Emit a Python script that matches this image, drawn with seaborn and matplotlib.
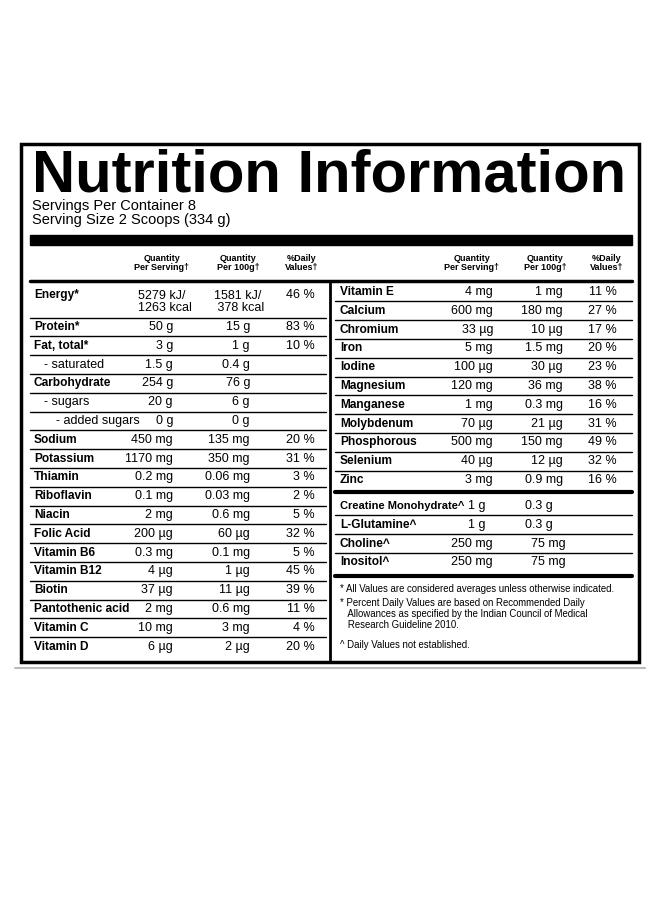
import matplotlib
matplotlib.use("Agg")
import matplotlib.pyplot as plt
import seaborn as sns

sns.set_theme(style="white")
plt.rcParams['font.family'] = ['Liberation Sans', 'DejaVu Sans']
plt.rcParams['text.color'] = 'black'

# left table data
left_names = ["Energy*", "Protein*", "Fat, total*", "- saturated", "Carbohydrate", "- sugars",
              "- added sugars", "Sodium", "Potassium", "Thiamin", "Riboflavin", "Niacin",
              "Folic Acid", "Vitamin B6", "Vitamin B12", "Biotin", "Pantothenic acid",
              "Vitamin C", "Vitamin D"]
left_serv = ["5279 kJ/\n1263 kcal", "50 g", "3 g", "1.5 g", "254 g", "20 g", "0 g", "450 mg",
             "1170 mg", "0.2 mg", "0.1 mg", "2 mg", "200 µg", "0.3 mg", "4 µg", "37 µg",
             "2 mg", "10 mg", "6 µg"]
left_100g = ["1581 kJ/\n 378 kcal", "15 g", "1 g", "0.4 g", "76 g", "6 g", "0 g", "135 mg",
             "350 mg", "0.06 mg", "0.03 mg", "0.6 mg", "60 µg", "0.1 mg", "1 µg", "11 µg",
             "0.6 mg", "3 mg", "2 µg"]
left_dv = ["46 %", "83 %", "10 %", "", "", "", "", "20 %", "31 %", "3 %", "2 %", "5 %",
           "32 %", "5 %", "45 %", "39 %", "11 %", "4 %", "20 %"]
sub_rows = ["- saturated", "- sugars", "- added sugars"]

# right table data
right_names = ["Vitamin E", "Calcium", "Chromium", "Iron", "Iodine", "Magnesium", "Manganese",
               "Molybdenum", "Phosphorous", "Selenium", "Zinc"]
right_serv = ["4 mg", "600 mg", "33 µg", "5 mg", "100 µg", "120 mg", "1 mg", "70 µg",
              "500 mg", "40 µg", "3 mg"]
right_100g = ["1 mg", "180 mg", "10 µg", "1.5 mg", "30 µg", "36 mg", "0.3 mg", "21 µg",
              "150 mg", "12 µg", "0.9 mg"]
right_dv = ["11 %", "27 %", "17 %", "20 %", "23 %", "38 %", "16 %", "31 %", "49 %", "32 %", "16 %"]

extra_names = ["Creatine Monohydrate^", "L-Glutamine^", "Choline^", "Inositol^"]
extra_serv = ["1 g", "1 g", "250 mg", "250 mg"]
extra_100g = ["0.3 g", "0.3 g", "75 mg", "75 mg"]

footnotes = ["* All Values are considered averages unless otherwise indicated.",
             "* Percent Daily Values are based on Recommended Daily\n   Allowances as specified by the Indian Council of Medical\n   Research Guideline 2010.",
             "^ Daily Values not established."]

fig = plt.figure(figsize=(6.6, 9), dpi=100)
ax = fig.add_axes([0, 0, 1, 1])
ax.set_xlim(0, 660)
ax.set_ylim(900, 0)
ax.axis("off")

k = "black"
fs = 9
fb = 8.6  # bold names
ax.add_patch(plt.Rectangle((21, 144), 618, 518, fill=False, lw=2.5, ec=k))
ax.plot([15, 645], [668, 668], color="#bbbbbb", lw=1.5)

t = ax.text(32, 176, "Nutrition Information", fontsize=40, fontweight="bold",
            va="center", ha="left")
fig.canvas.draw()
w = t.get_window_extent().width
t.set_fontsize(40 * 593 / w)

ax.text(32, 206, "Servings Per Container 8", fontsize=10.5, va="center")
ax.text(32, 220, "Serving Size 2 Scoops (334 g)", fontsize=10.5, va="center")

ax.add_patch(plt.Rectangle((30, 235), 602, 10, color=k))
ax.plot([30, 632], [281, 281], color=k, lw=2.5)
ax.plot([330, 330], [282, 660], color=k, lw=2)

hdr = [("Quantity\nPer Serving†", 162), ("Quantity\nPer 100g†", 238), ("%Daily\nValues†", 302),
       ("Quantity\nPer Serving†", 472), ("Quantity\nPer 100g†", 545), ("%Daily\nValues†", 607)]
for txt, x in hdr:
    ax.text(x, 263, txt, fontsize=6.5, fontweight="bold", ha="center", va="center", linespacing=1.1)

row_h = 18.8
for i, name in enumerate(left_names):
    yy = 295 if i == 0 else 327 + (i - 1) * row_h
    sub = name in sub_rows
    ax.text(34 + (10 if sub else 0) + (12 if name == "- added sugars" else 0), yy, name,
            fontsize=fs if sub else fb, fontweight="normal" if sub else "bold", va="center")
    if i == 0:
        ax.text(138, 302, left_serv[i], fontsize=fs, va="center", ha="left", linespacing=1.05)
        ax.text(214, 302, left_100g[i], fontsize=fs, va="center", ha="left", linespacing=1.05)
    else:
        ax.text(173, yy, left_serv[i], fontsize=fs, va="center", ha="right")
        ax.text(250, yy, left_100g[i], fontsize=fs, va="center", ha="right")
    ax.text(315, yy, left_dv[i], fontsize=fs, va="center", ha="right")
    if i < len(left_names) - 1:
        ly = 318 if i == 0 else yy + row_h / 2
        ax.plot([30, 326], [ly, ly], color=k, lw=1)

for i, name in enumerate(right_names):
    yy = 292 + i * row_h
    ax.text(340, yy, name, fontsize=fb, fontweight="bold", va="center")
    ax.text(493, yy, right_serv[i], fontsize=fs, va="center", ha="right")
    ax.text(563, yy, right_100g[i], fontsize=fs, va="center", ha="right")
    ax.text(617, yy, right_dv[i], fontsize=fs, va="center", ha="right")
    if i < len(right_names) - 1:
        ax.plot([335, 632], [yy + row_h / 2, yy + row_h / 2], color=k, lw=1)
ax.plot([335, 632], [492, 492], color=k, lw=3)

serv_x = [486, 486, 493, 493]
for i, name in enumerate(extra_names):
    yy = 506 + i * row_h
    ax.text(340, yy, name, fontsize=fb if i else 8, fontweight="bold", va="center")
    ax.text(serv_x[i], yy, extra_serv[i], fontsize=fs, va="center", ha="right")
    ax.text(525 if i < 2 else 531, yy, extra_100g[i], fontsize=fs, va="center", ha="left")
    if i < len(extra_names) - 1:
        ax.plot([335, 632], [yy + row_h / 2, yy + row_h / 2], color=k, lw=1)
ax.plot([335, 632], [576, 576], color=k, lw=3)

ax.text(340, 589, footnotes[0], fontsize=6.9, va="center")
ax.text(340, 598, footnotes[1], fontsize=6.9, va="top", linespacing=1.1)
ax.text(340, 645, footnotes[2], fontsize=6.9, va="center")

fig.savefig("out.png", dpi=100, facecolor="white")
